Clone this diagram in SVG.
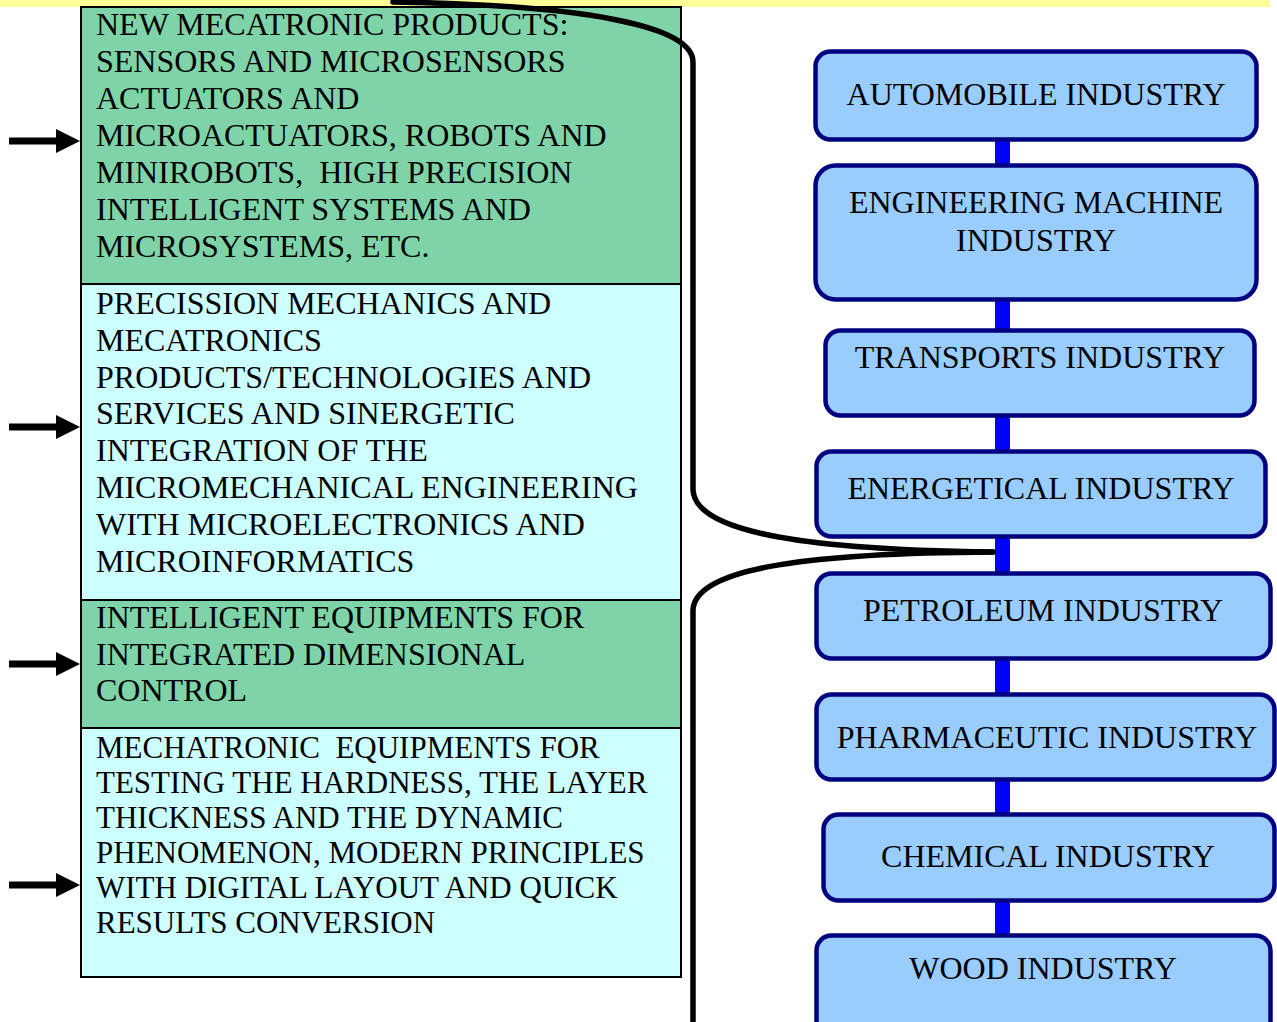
<svg xmlns="http://www.w3.org/2000/svg" width="1277" height="1022" viewBox="0 0 1277 1022">
<style>
.lt{font-family:"Liberation Serif","Times New Roman",serif;font-size:32px;fill:#000}
.lt4{font-family:"Liberation Serif","Times New Roman",serif;font-size:31px;fill:#000}
.rt{font-family:"Liberation Serif","Times New Roman",serif;font-size:32px;fill:#000;text-anchor:middle}
.g{fill:#7FD3A8;stroke:#000;stroke-width:2}
.c{fill:#CCFFFF;stroke:#000;stroke-width:2}
.ind{fill:#99CCFF;stroke:#000080;stroke-width:4.5}
.cur{fill:none;stroke:#000;stroke-width:5.5;stroke-linecap:round}
</style>
<defs>
<g id="arr"><rect x="9" y="-3.5" width="50" height="7" fill="#000"/><polygon points="56,-12 80,0 56,12" fill="#000"/></g>
</defs>
<rect x="0" y="0" width="1270" height="7" fill="#FFFF99"/>

<g id="left-boxes">
<g id="box1"><rect class="g" x="81" y="7" width="600" height="277"/>
<text class="lt" x="96" y="35">NEW MECATRONIC PRODUCTS:</text>
<text class="lt" x="96" y="72">SENSORS AND MICROSENSORS</text>
<text class="lt" x="96" y="109">ACTUATORS AND</text>
<text class="lt" x="96" y="146">MICROACTUATORS, ROBOTS AND</text>
<text class="lt" x="96" y="183" xml:space="preserve">MINIROBOTS,  HIGH PRECISION</text>
<text class="lt" x="96" y="220">INTELLIGENT SYSTEMS AND</text>
<text class="lt" x="96" y="257">MICROSYSTEMS, ETC.</text></g>
<g id="box2"><rect class="c" x="81" y="284" width="600" height="316"/>
<text class="lt" x="96" y="314">PRECISSION MECHANICS AND</text>
<text class="lt" x="96" y="351">MECATRONICS</text>
<text class="lt" x="96" y="388">PRODUCTS/TECHNOLOGIES AND</text>
<text class="lt" x="96" y="424">SERVICES AND SINERGETIC</text>
<text class="lt" x="96" y="461">INTEGRATION OF THE</text>
<text class="lt" x="96" y="498">MICROMECHANICAL ENGINEERING</text>
<text class="lt" x="96" y="535">WITH MICROELECTRONICS AND</text>
<text class="lt" x="96" y="572">MICROINFORMATICS</text></g>
<g id="box3"><rect class="g" x="81" y="600" width="600" height="128"/>
<text class="lt" x="96" y="628">INTELLIGENT EQUIPMENTS FOR</text>
<text class="lt" x="96" y="665">INTEGRATED DIMENSIONAL</text>
<text class="lt" x="96" y="701">CONTROL</text></g>
<g id="box4"><rect class="c" x="81" y="728" width="600" height="249"/>
<text class="lt4" x="96" y="758" xml:space="preserve">MECHATRONIC  EQUIPMENTS FOR</text>
<text class="lt4" x="96" y="793">TESTING THE HARDNESS, THE LAYER</text>
<text class="lt4" x="96" y="828">THICKNESS AND THE DYNAMIC</text>
<text class="lt4" x="96" y="863">PHENOMENON, MODERN PRINCIPLES</text>
<text class="lt4" x="96" y="898">WITH DIGITAL LAYOUT AND QUICK</text>
<text class="lt4" x="96" y="933">RESULTS CONVERSION</text></g>
</g>

<g id="connectors">
<rect x="995" y="140" width="15" height="800" fill="#0000FF"/>
<path class="cur" d="M393,2 C580,5 693,25 693,62 L693,490 C695,535 820,550 993,552"/>
<path class="cur" d="M993,552 C820,553 695,566 693,610 L693,1025"/>
<use href="#arr" y="141"/>
<use href="#arr" y="427"/>
<use href="#arr" y="664"/>
<use href="#arr" y="885"/>
</g>

<g id="right-boxes">
<g id="automobile"><rect class="ind" x="815.5" y="51.5" width="441" height="88" rx="15"/>
<text class="rt" x="1036" y="105">AUTOMOBILE INDUSTRY</text></g>
<g id="engineering"><rect class="ind" x="815.5" y="165.5" width="441" height="134" rx="20"/>
<text class="rt" x="1036" y="213">ENGINEERING MACHINE</text>
<text class="rt" x="1036" y="251">INDUSTRY</text></g>
<g id="transports"><rect class="ind" x="825.5" y="330.5" width="429" height="85" rx="15"/>
<text class="rt" x="1040" y="368">TRANSPORTS INDUSTRY</text></g>
<g id="energetical"><rect class="ind" x="816.5" y="451.5" width="449" height="85" rx="15"/>
<text class="rt" x="1041" y="499">ENERGETICAL INDUSTRY</text></g>
<g id="petroleum"><rect class="ind" x="816.5" y="573.5" width="454" height="85" rx="15"/>
<text class="rt" x="1043" y="621">PETROLEUM INDUSTRY</text></g>
<g id="pharmaceutic"><rect class="ind" x="816.5" y="694.5" width="458" height="85" rx="15"/>
<text class="rt" x="1047" y="748">PHARMACEUTIC INDUSTRY</text></g>
<g id="chemical"><rect class="ind" x="823.5" y="814.5" width="451" height="86" rx="15"/>
<text class="rt" x="1048" y="867">CHEMICAL INDUSTRY</text></g>
<g id="wood"><rect class="ind" x="816.5" y="935.5" width="454" height="100" rx="15"/>
<text class="rt" x="1043" y="979">WOOD INDUSTRY</text></g>
</g>
</svg>
